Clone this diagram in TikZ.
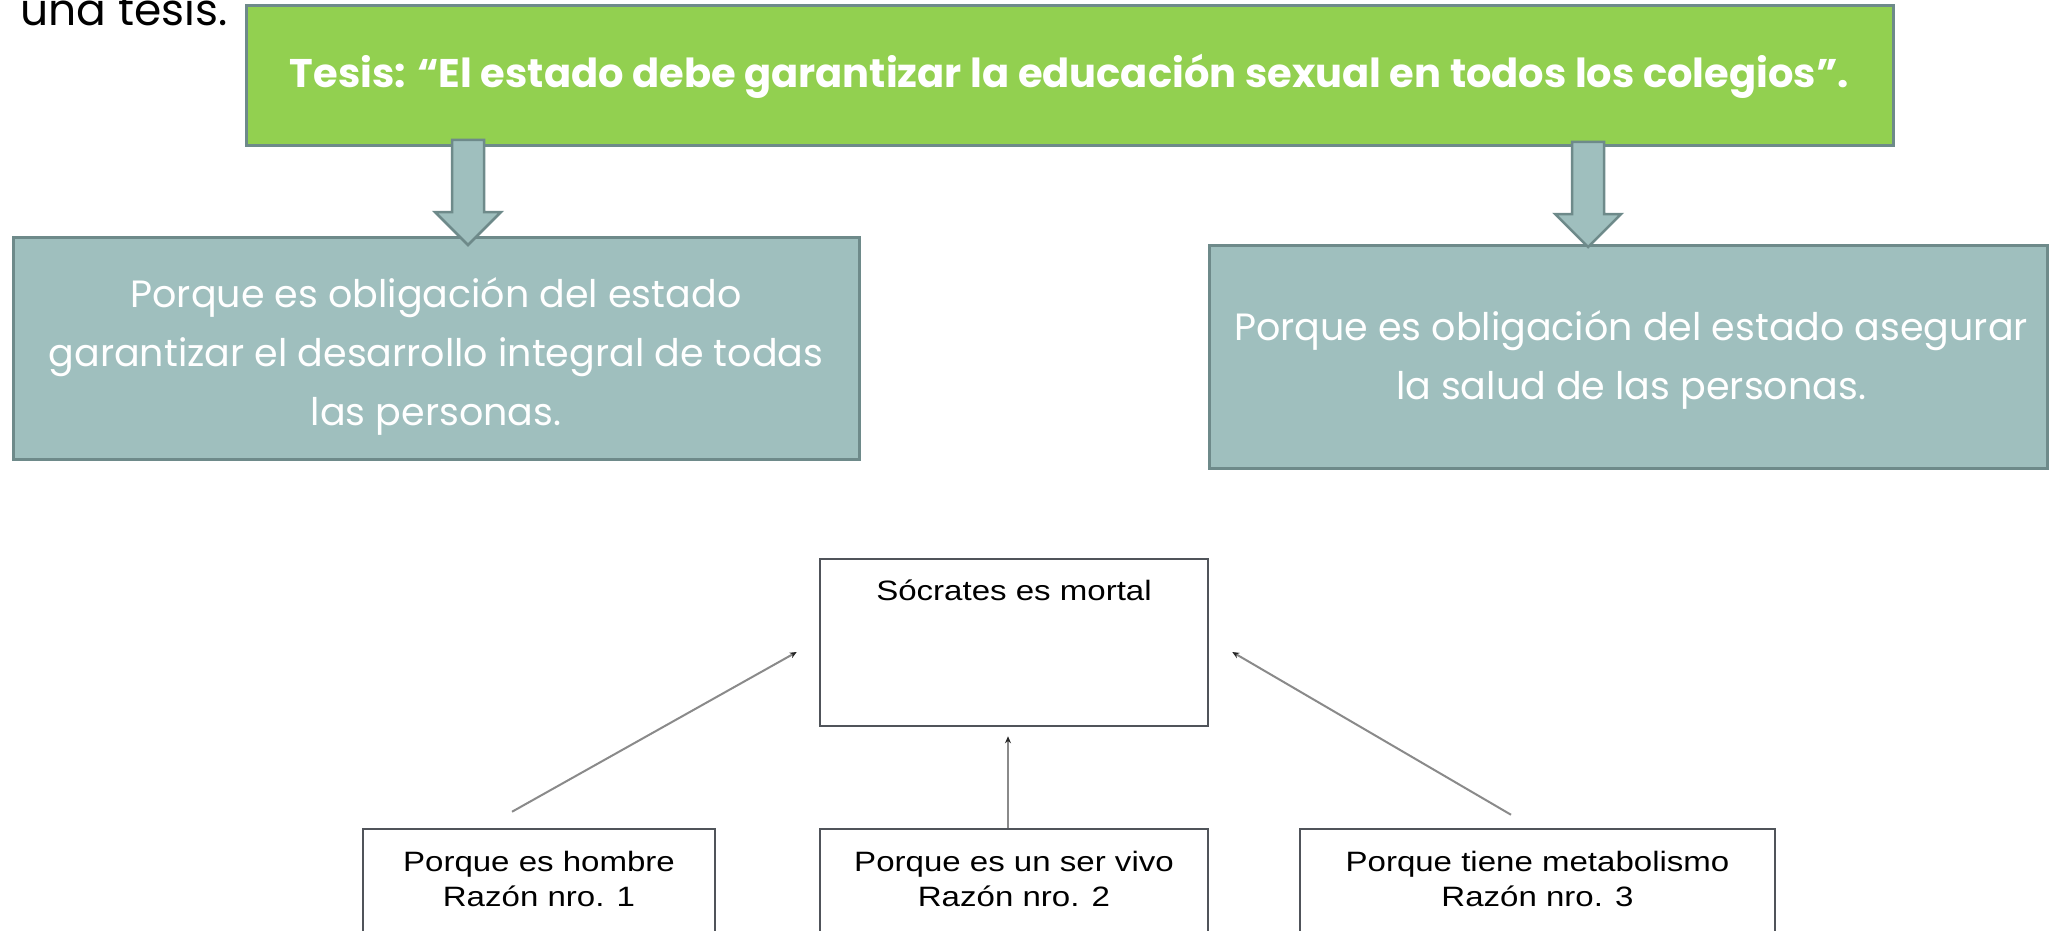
\documentclass[tikz,border=0pt]{standalone}
\usepackage{fontspec}
\setmainfont{Poppins}
\newfontfamily\arialfont[FakeStretch=1.18]{Liberation Sans}
\usetikzlibrary{positioning,arrows.meta}

\definecolor{tesisgreen}{HTML}{92D050}
\definecolor{razonteal}{HTML}{9FBFBE}
\definecolor{tealborder}{HTML}{6E8A8A}
\definecolor{boxgray}{HTML}{50545A}
\definecolor{linegray}{HTML}{8A8A8A}

\tikzset{
  tesisbox/.style={draw=tealborder, line width=3pt, fill=tesisgreen,
    minimum width=1647pt, minimum height=140pt, text=white,
    font=\fontsize{40}{48}\selectfont\bfseries},
  razonbox/.style={draw=tealborder, line width=3pt, fill=razonteal},
  razontext/.style={text=white, align=center, inner sep=0pt,
    font=\fontsize{38}{59}\selectfont},
  plainbox/.style={draw=boxgray, line width=2.5pt, fill=white},
  plaintext/.style={inner sep=0pt, align=center,
    font=\arialfont\fontsize{28}{35}\selectfont},
  thinarrow/.style={draw=linegray, line width=2pt,
    -{Stealth[length=7pt,width=6pt,color=black!85]}},
  blockarrow/.style={draw=tealborder, line width=2.5pt, fill=razonteal}
}

\begin{document}
\begin{tikzpicture}[x=1pt,y=-1pt]
  \def\tealarrow(#1){%
    \begin{scope}[shift={(#1)}]
      \filldraw[blockarrow] (-16,0) -- (16,0) -- (16,72) -- (33,72)
        -- (0,105) -- (-33,72) -- (-16,72) -- cycle;
    \end{scope}
  }

  \useasboundingbox (0,0) rectangle (2050,931);
  \clip (0,0) rectangle (2050,931);

  \node[anchor=base west, inner sep=0pt, font=\fontsize{44}{50}\selectfont]
    (intro) at (20,26) {una tesis.};

  \node[tesisbox] (tesis) at (1069.5,76)
    {Tesis: “El estado debe garantizar la educación sexual en todos los colegios”.};

  \node[razonbox, minimum width=846pt, minimum height=222pt] (razon1) at (436,348) {};
  \node[razontext] (razon1text) at ([yshift=-8pt]razon1.center)
    {Porque es obligación del estado\\garantizar el desarrollo integral de todas\\las personas.};
  \node[razonbox, minimum width=838pt, minimum height=223pt] (razon2) at (1628,356.5) {};
  \node[razontext] (razon2text) at ([xshift=3pt,yshift=-3pt]razon2.center)
    {Porque es obligación del estado asegurar\\la salud de las personas.};

  \coordinate (arrow1) at (468,140);
  \coordinate (arrow2) at (1588,142);
  \tealarrow(arrow1)
  \tealarrow(arrow2)

  \node[plainbox, minimum width=388pt, minimum height=167pt] (soc) at (1014,642.5) {};
  \node[plaintext, below=43pt of soc.north, anchor=base] (soctext) {Sócrates es mortal};

  \node[plainbox, minimum width=352pt, minimum height=131pt] (r1) at (539,894.5) {};
  \node[plainbox, minimum width=388pt, minimum height=131pt] (r2) at (1014,894.5) {};
  \node[plainbox, minimum width=475pt, minimum height=131pt] (r3) at (1537.5,894.5) {};
  \node[plaintext, below=23pt of r1.north] (r1text) {Porque es hombre\\Razón nro. 1};
  \node[plaintext, below=23pt of r2.north] (r2text) {Porque es un ser vivo\\Razón nro. 2};
  \node[plaintext, below=23pt of r3.north] (r3text) {Porque tiene metabolismo\\Razón nro. 3};

  \draw[thinarrow] ([xshift=-27pt,yshift=16pt]r1.north) -- ([xshift=-22pt,yshift=-9.5pt]soc.west);
  \draw[thinarrow] ([xshift=-6pt]r2.north) -- ([xshift=-6pt,yshift=-9pt]soc.south);
  \draw[thinarrow] ([xshift=-26.5pt,yshift=13pt]r3.north) -- ([xshift=23pt,yshift=-9.5pt]soc.east);
\end{tikzpicture}
\end{document}
